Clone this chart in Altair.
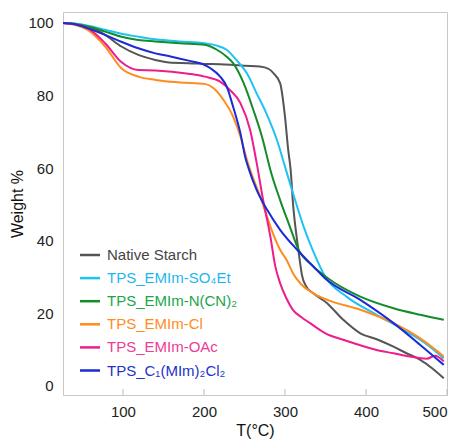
import altair as alt
import pandas as pd

series_names = ["Native Starch", "TPS_EMIm-SO₄Et", "TPS_EMIm-N(CN)₂",
                "TPS_EMIm-Cl", "TPS_EMIm-OAc", "TPS_C₁(MIm)₂Cl₂"]
line_colors = ["#555555", "#1EC3F4", "#138C2A", "#FF8C1E", "#EE1D8C", "#1B2BD6"]
label_colors = ["#444444", "#1EB6EE", "#1AA64A", "#FF8C1E", "#EE3D95", "#2233CC"]

starch_T = [26, 40, 57, 78, 98, 119, 140, 160, 181, 201, 220, 236, 250, 269, 280, 286, 294,
            300, 304, 307, 310, 315, 318, 321, 326, 335, 352, 372, 393, 414, 434, 450, 467, 482, 496]
starch_W = [100, 99.8, 99, 96.7, 93.5, 91.2, 89.8, 89, 88.9, 88.7, 88.6, 88.4, 88.2, 88.0, 87.3, 86.1, 83.4,
            74.2, 65, 59.5, 50, 40, 35, 30.5, 27.5, 25.5, 22.8, 18.2, 14.5, 12.8, 10.8, 9.0, 7.2, 4.8, 2.1]

so4_T = [26, 40, 57, 78, 98, 119, 140, 170, 201, 215, 228, 240, 253, 265, 277, 290, 300, 310,
         323, 335, 350, 376, 413, 454, 476, 496]
so4_W = [100, 99.8, 99.2, 98.1, 97, 96.2, 95.5, 94.9, 94.4, 93.8, 92.6, 89.8, 86.1, 80.6, 75.1, 67.8, 60.4, 53,
         43.9, 37, 30, 24.6, 19.6, 14.5, 11.3, 7.6]

ncn_T = [26, 40, 57, 78, 98, 119, 140, 170, 201, 216, 228, 236, 249, 261, 273, 278, 282, 294, 306,
         316, 335, 352, 393, 434, 467, 496]
ncn_W = [100, 99.7, 99, 97.6, 96.2, 95.3, 94.9, 94.4, 94, 92.6, 90.7, 88.9, 83.4, 76, 67.5, 63, 59.5, 51.2, 43.9,
         37.9, 32.9, 29.8, 24.6, 21.4, 19.6, 18.2]

cl_T = [26, 40, 57, 78, 98, 119, 140, 170, 201, 212, 224, 236, 245, 253, 257, 271, 282, 294, 302,
        310, 320, 335, 355, 393, 434, 467, 496]
cl_W = [100, 99.5, 98, 93.5, 87.5, 85.2, 84.3, 83.6, 83.2, 82, 78.8, 74.2, 68.7, 62.3, 59.5, 51.2, 43.9, 37.5, 34.7,
        31, 28, 25.5, 23.5, 21, 17.3, 13.1, 8.1]

oac_T = [26, 40, 57, 78, 98, 119, 140, 181, 201, 220, 232, 245, 257, 265, 273, 282, 288, 294, 302,
         310, 320, 331, 350, 372, 393, 413, 434, 454, 475, 485, 496]
oac_W = [100, 99.6, 98.5, 94.4, 89.2, 87, 86.9, 86, 85.2, 83.8, 81.5, 77.9, 70.5, 61.5, 51.2, 41.1, 33, 28.3, 24,
         20.9, 19, 17.3, 14.5, 12.7, 11.2, 9.9, 9, 8.1, 7.5, 8.3, 6.8]

c1_T = [26, 40, 57, 78, 98, 119, 140, 160, 181, 201, 208, 220, 228, 236, 245, 251, 255, 265, 278,
        294, 315, 335, 350, 393, 434, 467, 496]
c1_W = [100, 99.7, 98.5, 96.7, 94.8, 93, 91.6, 90.7, 89.6, 88.4, 87.5, 85.2, 82.5, 76.9, 69.6, 63, 60, 54, 48.5,
        43, 37.5, 32.9, 29.5, 23.7, 17.3, 11.3, 5.8]

x_ticks = [100, 200, 300, 400, 500]
y_ticks = [0, 20, 40, 60, 80, 100]

all_T = [starch_T, so4_T, ncn_T, cl_T, oac_T, c1_T]
all_W = [starch_W, so4_W, ncn_W, cl_W, oac_W, c1_W]

rows = []
for name, ts, ws in zip(series_names, all_T, all_W):
    for t, w in zip(ts, ws):
        rows.append({"name": name, "T": t, "W": w})
df = pd.DataFrame(rows)

legend_df = pd.DataFrame({"name": series_names, "idx": list(range(len(series_names)))})
tick_df = pd.DataFrame({"T": x_ticks})

FONT = "Liberation Sans"
W_PLOT, H_PLOT = 384, 383

x_scale = alt.Scale(domain=[26, 500], nice=False, zero=False)
y_scale = alt.Scale(domain=[-2.5, 103], nice=False, zero=False)
color_scale = alt.Scale(domain=series_names, range=line_colors)
label_scale = alt.Scale(domain=series_names, range=label_colors)

lines = alt.Chart(df).mark_line(strokeWidth=2, clip=True, interpolate="monotone").encode(
    x=alt.X("T:Q", scale=x_scale,
            axis=alt.Axis(values=x_ticks, title="T(°C)", labelPadding=9, titlePadding=3)),
    y=alt.Y("W:Q", scale=y_scale,
            axis=alt.Axis(values=y_ticks, title="Weight %", labelPadding=10, titlePadding=2)),
    color=alt.Color("name:N", scale=color_scale, legend=None),
)

ticks = alt.Chart(tick_df).mark_rule(color="#bbbbbb", strokeWidth=1).encode(
    x=alt.X("T:Q", scale=x_scale),
    y=alt.value(H_PLOT - 6),
    y2=alt.value(H_PLOT),
)

leg_rules = alt.Chart(legend_df).transform_calculate(
    ly="243 + 23.1 * datum.idx"
).mark_rule(strokeWidth=2.5).encode(
    x=alt.value(17), x2=alt.value(37),
    y=alt.Y("ly:Q", scale=None),
    color=alt.Color("name:N", scale=color_scale, legend=None),
)

leg_text = alt.Chart(legend_df).transform_calculate(
    ly="243 + 23.1 * datum.idx"
).mark_text(align="left", baseline="middle", fontSize=15, font=FONT).encode(
    x=alt.value(44),
    y=alt.Y("ly:Q", scale=None),
    text="name:N",
    fill=alt.Fill("name:N", scale=label_scale, legend=None),
)

chart = alt.layer(ticks, lines, leg_rules, leg_text).resolve_scale(
    color="independent"
).properties(
    width=W_PLOT, height=H_PLOT,
    autosize=alt.AutoSizeParams(type="none"),
    padding={"left": 55, "top": 4, "right": 1, "bottom": 48},
).configure_view(
    stroke="#c8c8c8", strokeWidth=1
).configure_axis(
    domain=False, ticks=False, tickSize=0, grid=False,
    labelFont=FONT, labelFontSize=15, labelColor="#222222",
    titleFont=FONT, titleFontSize=16, titleFontWeight="normal", titleColor="#111111",
)

chart.save("out.html", embed_options={"renderer": "svg", "actions": False})
